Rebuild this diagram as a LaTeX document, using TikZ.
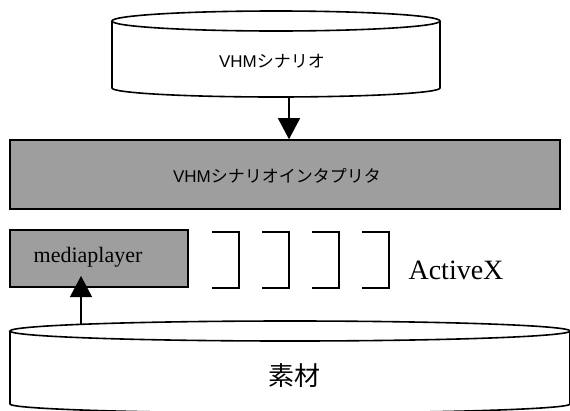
\documentclass[tikz,border=0pt]{standalone}
\usepackage{fontspec}
\setmainfont{Liberation Serif}
\newfontfamily\jpfont{Noto Sans CJK JP}
\newfontfamily\arialfont{Liberation Sans}
\usetikzlibrary{arrows.meta}
\definecolor{dither}{RGB}{158,158,158}
\tikzset{
  outline/.style={draw=black, line width=1.6pt},
  graybox/.style={outline, fill=dither, inner sep=0pt},
  bracketline/.style={draw=black, line width=1.4pt},
  flow/.style={draw=black, line width=1.2pt, -{Triangle[length=21pt,width=22pt]}},
  jplabel/.style={font=\fontsize{17}{20}\selectfont, inner sep=0pt},
  bigjp/.style={font=\jpfont\fontsize{26}{30}\selectfont, inner sep=0pt},
  serifbig/.style={font=\fontsize{22}{26}\selectfont, inner sep=0pt},
  seriflarge/.style={font=\fontsize{28}{33}\selectfont, inner sep=0pt}
}
\begin{document}
\begin{tikzpicture}[x=1pt, y=-1pt]
\useasboundingbox[fill=white] (0,0) rectangle (570,410);
% top cylinder
\draw[outline] (276,21) ellipse [x radius=164pt, y radius=10pt];
\draw[outline] (112,21) -- (112,88) arc [start angle=180, end angle=360, x radius=164pt, y radius=9pt] -- (440,21);
\node[jplabel] (scen) at (272,61) {\arialfont VHM\jpfont シナリオ};
\coordinate (scenbot) at (289,97);
% interpreter bar
\node[graybox, minimum width=550pt, minimum height=69pt] (interp) at (285,174.5) {};
\node[jplabel] (interptext) at (277,176) {\arialfont VHM\jpfont シナリオインタプリタ};
% mediaplayer
\node[graybox, minimum width=178pt, minimum height=57pt] (media) at (99,258.5) {};
\node[serifbig] (mediatext) at (88,257) {mediaplayer};
\coordinate (mediain) at (81,276);
% brackets
\foreach \i in {0,1,2,3} {
  \draw[bracketline] ({212+50*\i},232) -- ({239+50*\i},232) -- ({239+50*\i},288) -- ({212+50*\i},288);
}
\node[seriflarge] (activex) at (456,270) {ActiveX};
% bottom cylinder
\draw[outline] (290,331) ellipse [x radius=280pt, y radius=10pt];
\draw[outline] (10,331) -- (10,404) arc [start angle=180, end angle=360, x radius=280pt, y radius=9pt] -- (570,331);
\node[bigjp] (sozai) at (294,376) {素材};
\coordinate (sozaitop) at (81,324);
% arrows
\draw[flow] (scenbot) -- (interp.north -| scenbot);
\draw[flow] (sozaitop) -- (mediain);
\end{tikzpicture}
\end{document}
